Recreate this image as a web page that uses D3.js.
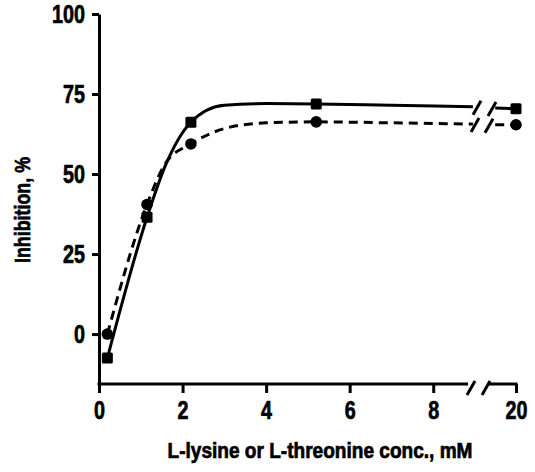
<!DOCTYPE html>
<html>
<head>
<meta charset="utf-8">
<script src="https://cdn.jsdelivr.net/npm/d3@7"></script>
<style>
  body { margin: 0; background: #fff; }
  text { font-family: "Liberation Sans", Arial, sans-serif; font-weight: bold; fill: #000; stroke: #000; stroke-width: 0.7px; }
</style>
</head>
<body>
<div id="chart"></div>
<script>
// measured points (mM, % inhibition)
const conc = [0.2, 1.15, 2.2, 5.2, 20];
const inhibSquare = [-7.5, 36.5, 66.2, 71.9, 70.4];
const inhibCircle = [0, 40.5, 59.4, 66.3, 65.4];

// hand-drawn fitted curves
const fitConc = [0.2, 1.15, 1.6, 2.2, 3, 4, 5.2, 7, 8.95];
const fitSquare = [-7.5, 36.5, 53, 66.2, 71.5, 72, 71.9, 71.5, 71];
const fitCircle = [0, 40.5, 53.5, 59.4, 64.2, 66, 66.3, 66, 65.6];
const fitConcRight = [19.2, 20];
const fitSquareRight = [70.6, 70.4];
const fitCircleRight = [65.4, 65.4];

const xTicks = [0, 2, 4, 6, 8, 20];
const yTicks = [0, 25, 50, 75, 100];

const width = 535;
const height = 472;

const svg = d3.select('#chart')
  .append('svg')
  .attr('width', width)
  .attr('height', height)
  .attr('xmlns', 'http://www.w3.org/2000/svg');

// broken x axis: 0-9 then jump to 19-20
const x = d3.scaleLinear()
  .domain([0, 9, 19, 20])
  .range([99, 475, 490, 516]);

const y = d3.scaleLinear()
  .domain([-15.6, 100])
  .range([384, 14]);

const x0 = x(0);
const yBase = y(-15.6);
const squeeze = 'scale(0.76,1)';

// y axis
const yAxis = svg.append('g')
  .attr('transform', `translate(${x0},0)`)
  .call(d3.axisLeft(y).tickValues(yTicks).tickSize(7).tickSizeOuter(0).tickFormat(d3.format('d')));
yAxis.select('.domain').attr('stroke', '#000').attr('stroke-width', 3);
yAxis.selectAll('.tick line').attr('stroke', '#000').attr('stroke-width', 3);
yAxis.selectAll('.tick text')
  .attr('x', null)
  .attr('dy', '0.34em')
  .attr('transform', `translate(-14,0) ${squeeze}`)
  .attr('text-anchor', 'end')
  .style('font-size', '26px');

// x axis
const xAxis = svg.append('g')
  .attr('transform', `translate(0,${yBase})`)
  .call(d3.axisBottom(x).tickValues(xTicks).tickSize(9).tickSizeOuter(0).tickFormat(d3.format('d')));
xAxis.select('.domain').remove();
xAxis.selectAll('.tick line').attr('stroke', '#000').attr('stroke-width', 3);
xAxis.selectAll('.tick text')
  .attr('y', 35)
  .attr('dy', null)
  .attr('transform', squeeze)
  .style('font-size', '26px');

// axis line with the break
const axisSegs = [[x0 - 1.5, x(9) - 7], [x(19) - 2, x(20) + 1.5]];
xAxis.selectAll('line.seg')
  .data(axisSegs)
  .enter()
  .append('line')
  .attr('class', 'seg')
  .attr('x1', (d) => d[0])
  .attr('x2', (d) => d[1])
  .attr('y1', 0)
  .attr('y2', 0)
  .attr('stroke', '#000')
  .attr('stroke-width', 3);

const slash = (g, cx, cy) => {
  g.append('line')
    .attr('x1', cx - 4).attr('y1', cy + 7)
    .attr('x2', cx + 4).attr('y2', cy - 7)
    .attr('stroke', '#000')
    .attr('stroke-width', 3);
};
slash(xAxis, x(9) - 4, 4);
slash(xAxis, x(19) - 4, 4);

// curves
const line = d3.line()
  .x((d) => x(d[0]))
  .y((d) => y(d[1]))
  .curve(d3.curveMonotoneX);

const curves = [
  { pts: d3.zip(fitConc, fitSquare), dash: null },
  { pts: d3.zip(fitConcRight, fitSquareRight), dash: null },
  { pts: d3.zip(fitConc, fitCircle), dash: '9,6' },
  { pts: d3.zip(fitConcRight, fitCircleRight), dash: '9,6' },
];

svg.append('g')
  .selectAll('path')
  .data(curves)
  .enter()
  .append('path')
  .attr('d', (d) => line(d.pts))
  .attr('fill', 'none')
  .attr('stroke', '#000')
  .attr('stroke-width', 3)
  .attr('stroke-dasharray', (d) => d.dash);

// break marks on the curves
const breaks = svg.append('g');
slash(breaks, x(9) + 2, y(fitSquare[fitSquare.length - 1]) + 1);
slash(breaks, x(19) + 2, y(fitSquareRight[0]) + 1);
slash(breaks, x(9), y(fitCircle[fitCircle.length - 1]) + 1);
slash(breaks, x(19) - 1, y(fitCircleRight[0]) + 1);

// markers
svg.append('g')
  .selectAll('rect')
  .data(d3.zip(conc, inhibSquare))
  .enter()
  .append('rect')
  .attr('x', (d) => x(d[0]) - 5.5)
  .attr('y', (d) => y(d[1]) - 5.5)
  .attr('width', 11)
  .attr('height', 11)
  .attr('rx', 1.5)
  .attr('fill', '#000');

svg.append('g')
  .selectAll('circle')
  .data(d3.zip(conc, inhibCircle))
  .enter()
  .append('circle')
  .attr('cx', (d) => x(d[0]))
  .attr('cy', (d) => y(d[1]))
  .attr('r', 5.8)
  .attr('fill', '#000');

// titles
svg.append('text')
  .attr('x', 320)
  .attr('y', 458)
  .attr('text-anchor', 'middle')
  .attr('textLength', 305)
  .attr('lengthAdjust', 'spacingAndGlyphs')
  .style('font-size', '22px')
  .text('L-lysine or L-threonine conc., mM');

svg.append('text')
  .attr('transform', 'translate(30,210) rotate(-90)')
  .attr('text-anchor', 'middle')
  .attr('textLength', 106)
  .attr('lengthAdjust', 'spacingAndGlyphs')
  .style('font-size', '22px')
  .text('Inhibition, %');
</script>
</body>
</html>
